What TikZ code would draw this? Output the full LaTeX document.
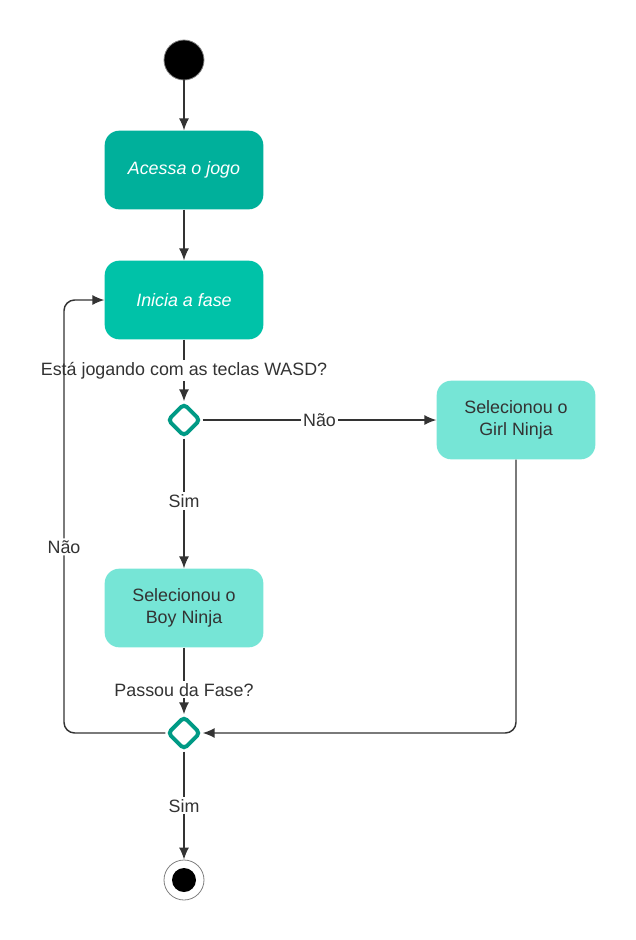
\documentclass[tikz,border=0pt]{standalone}
\usepackage{fontspec}
\setmainfont{Liberation Sans}
\usetikzlibrary{arrows.meta, calc, shapes.geometric}
\definecolor{tealdark}{HTML}{00B09B}
\definecolor{tealmid}{HTML}{00C2A8}
\definecolor{teallight}{HTML}{76E5D6}
\definecolor{tealline}{HTML}{009A85}
\definecolor{inkgray}{HTML}{333333}

\begin{document}
\begin{tikzpicture}[x=0.75pt, y=-0.75pt,
	font=\fontsize{13.4}{16.5}\selectfont,
	act/.style={rounded corners=11pt, minimum width=119pt, minimum height=59pt, align=center, inner sep=0pt},
	choice/.style={diamond, draw=tealline, line width=3pt, rounded corners=3pt, minimum width=25pt, minimum height=25pt, inner sep=0pt, fill=white},
	flow/.style={draw=inkgray, line width=1.1pt, -{Latex[length=9pt, width=7.5pt]}},
	lbl/.style={fill=white, text=inkgray, inner sep=1.5pt}]
	% Page frame (pixels of the sketch)
	\useasboundingbox (0,0) rectangle (636,940);
	
	% Start and first two steps
	\node[circle, fill=black, draw=gray, line width=0.6pt, minimum size=30pt] (inicio) at (184,60) {};
	\node[act, fill=tealdark, text=white, font=\fontsize{13.4}{16.5}\selectfont\itshape] (acessa) at (184,170) {Acessa o jogo};
	\node[act, fill=tealmid, text=white, font=\fontsize{13.4}{16.5}\selectfont\itshape] (inicia) at (184,300) {Inicia a fase};
	
	% Decisions
	\node[choice] (wasd) at (184,420) {};
	\node[choice] (passou) at (184,733) {};
	
	% Character choice
	\node[act, fill=teallight, text=inkgray] (girl) at (516,420) {Selecionou o\\Girl Ninja};
	\node[act, fill=teallight, text=inkgray] (boy) at (184,608) {Selecionou o\\Boy Ninja};
	
	% End
	\node[circle, draw=gray, line width=0.6pt, minimum size=30pt] (fim) at (184,880) {};
	\fill (fim) circle[radius=9pt];
	
	\coordinate (voltaL) at (64,733);
	
	\draw[flow] (inicio) -- (acessa);
	\draw[flow] (acessa) -- (inicia);
	\draw[flow] (inicia) -- node[lbl, pos=0.5] {Está jogando com as teclas WASD?} (wasd);
	\draw[flow] (wasd) -- node[lbl] {Não} (girl);
	\draw[flow] (wasd) -- node[lbl, pos=0.48] {Sim} (boy);
	\draw[flow] (boy) -- node[lbl, pos=0.63] {Passou da Fase?} (passou);
	\draw[flow, rounded corners=8pt] (girl.south) |- (passou.east);
	\draw[flow, rounded corners=8pt] (passou.west) -- (voltaL) |- node[lbl, pos=0.215] {Não} (inicia.west);
	\draw[flow] (passou) -- node[lbl, pos=0.5] {Sim} (fim);
\end{tikzpicture}
\end{document}
